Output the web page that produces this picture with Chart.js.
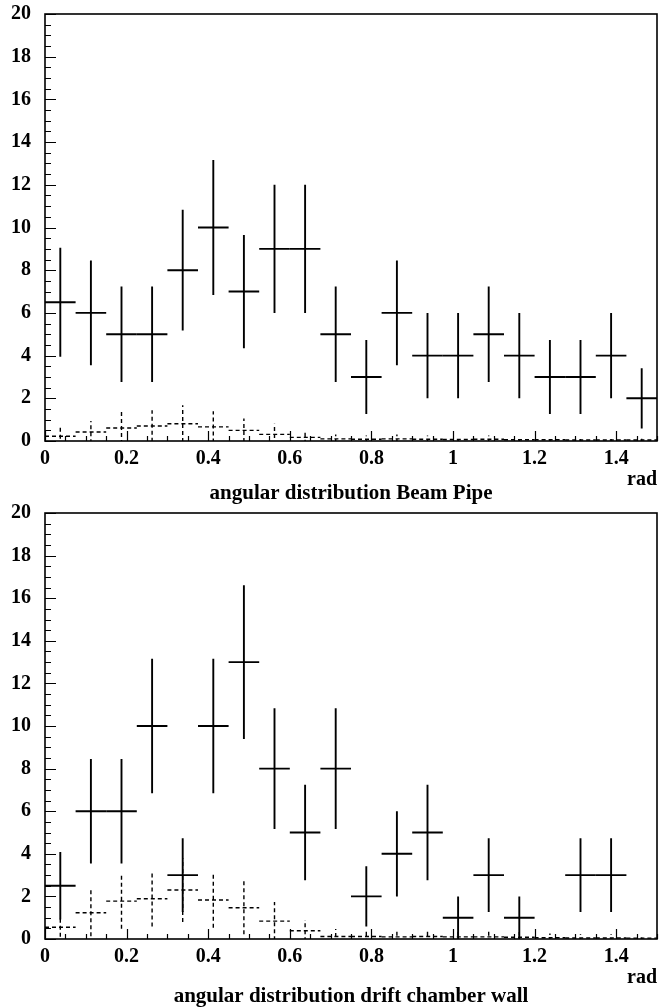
<!DOCTYPE html>
<html>
<head>
<meta charset="utf-8">
<script src="https://cdn.jsdelivr.net/npm/chart.js@4.4.0/dist/chart.umd.min.js"></script>
<style>
  body { margin: 0; background: #fff; }
  canvas { display: block; position: absolute; left: 0; }
  #pipe { top: 0; }
  #wall { top: 500px; }
</style>
</head>
<body>
<canvas id="pipe" width="660" height="510"></canvas>
<canvas id="wall" width="660" height="508"></canvas>
<script>
// bin centres (rad), 20 bins of 0.075
const binCenters = [0.0375, 0.1125, 0.1875, 0.2625, 0.3375, 0.4125, 0.4875, 0.5625, 0.6375, 0.7125,
                    0.7875, 0.8625, 0.9375, 1.0125, 1.0875, 1.1625, 1.2375, 1.3125, 1.3875, 1.4625]
const binHalf = 0.0375

// beam pipe: data (solid) and simulation (dashed)
const pipeCounts = [6.5, 6, 5, 5, 8, 10, 7, 9, 9, 5, 3, 6, 4, 4, 5, 4, 3, 3, 4, 2]
const pipeErrors = [2.55, 2.45, 2.24, 2.24, 2.83, 3.16, 2.65, 3, 3, 2.24, 1.73, 2.45, 2, 2, 2.24, 2, 1.73, 1.73, 2, 1.41]
const pipeSim    = [0.22, 0.42, 0.61, 0.7, 0.81, 0.66, 0.5, 0.31, 0.17, 0.1, 0.08, 0.1, 0.08, 0.07, 0.08, 0.06, 0.06, 0.05, 0.05, 0.05]
const pipeSimErr = [0.44, 0.52, 0.75, 0.74, 0.86, 0.73, 0.55, 0.5, 0.3, 0.2, 0.18, 0.2, 0.18, 0.16, 0.18, 0.15, 0.15, 0.14, 0.14, 0.13]

// drift chamber wall
const wallCounts = [2.5, 6, 6, 10, 3, 10, 13, 8, 5, 8, 2, 4, 5, 1, 3, 1, 0, 3, 3, 0]
const wallErrors = [1.58, 2.45, 2.45, 3.16, 1.73, 3.16, 3.61, 2.83, 2.24, 2.83, 1.41, 2, 2.24, 1, 1.73, 1, 0, 1.73, 1.73, 0]
const wallSim    = [0.55, 1.23, 1.78, 1.89, 2.3, 1.83, 1.47, 0.84, 0.39, 0.12, 0.12, 0.1, 0.12, 0.1, 0.1, 0.08, 0.06, 0.05, 0.05, 0.04]
const wallSimErr = [0.45, 1.1, 1.3, 1.3, 1.5, 1.3, 1.25, 0.9, 0.5, 0.35, 0.3, 0.28, 0.3, 0.28, 0.28, 0.25, 0.2, 0.18, 0.18, 0.15]

const xMin = 0, xMax = 1.5
const yMin = 0, yMax = 20
const xStep = 0.2, yStep = 2

const FONT = 'Liberation Serif'

// draws the error crosses, the frame and the inward tick marks
const histPlugin = {
  id: 'hist',
  afterDatasetsDraw(chart, args, opts) {
    const ctx = chart.ctx
    const xs = chart.scales.x, ys = chart.scales.y
    const a = chart.chartArea
    ctx.save()
    ctx.beginPath()
    ctx.rect(a.left, a.top, a.right - a.left, a.bottom - a.top)
    ctx.clip()
    ctx.strokeStyle = '#000'
    chart.data.datasets.forEach(ds => {
      ctx.lineWidth = ds.dashed ? 1.4 : 1.9
      ctx.setLineDash(ds.dashed ? [4, 3] : [])
      ds.data.forEach((p, i) => {
        if (!p.y) return
        const e = ds.errors[i]
        const py = ys.getPixelForValue(p.y)
        const px = xs.getPixelForValue(p.x)
        ctx.beginPath()
        ctx.moveTo(xs.getPixelForValue(p.x - binHalf), py)
        ctx.lineTo(xs.getPixelForValue(p.x + binHalf), py)
        ctx.moveTo(px, ys.getPixelForValue(p.y - e))
        ctx.lineTo(px, ys.getPixelForValue(p.y + e))
        ctx.stroke()
      })
    })
    ctx.restore()

    ctx.save()
    ctx.strokeStyle = '#000'
    ctx.lineWidth = 1.2
    ctx.beginPath()
    // y ticks: every 0.5, long on the labelled ones
    for (let v = yMin; v <= yMax + 1e-9; v += 0.5) {
      const y = Math.round(ys.getPixelForValue(v)) + 0.5
      const len = Math.abs(v % yStep) < 1e-6 ? 11 : 6
      ctx.moveTo(a.left, y); ctx.lineTo(a.left + len, y)
    }
    // x ticks: every 0.05
    for (let k = 0; k * 0.05 <= xMax + 1e-9; k++) {
      const v = k * 0.05
      const x = Math.round(xs.getPixelForValue(v)) + 0.5
      const len = k % 4 === 0 ? 10 : 5
      ctx.moveTo(x, a.bottom); ctx.lineTo(x, a.bottom - len)
    }
    ctx.stroke()
    ctx.lineWidth = 1.6
    ctx.strokeRect(a.left, a.top, a.right - a.left, a.bottom - a.top)

    ctx.fillStyle = '#000'
    ctx.font = 'bold 20px ' + FONT
    ctx.textAlign = 'right'
    ctx.textBaseline = 'alphabetic'
    ctx.fillText('rad', a.right, a.bottom + opts.radOffset)
    ctx.font = 'bold 21px ' + FONT
    ctx.textAlign = 'center'
    ctx.fillText(opts.title, (a.left + a.right) / 2, a.bottom + opts.titleOffset)
    ctx.restore()
  }
}

function makeChart(id, counts, errors, sim, simErr, title, padTop, axisH, titleOffset) {
  const toPoints = vals => binCenters.map((x, i) => ({ x: x, y: vals[i] }))
  return new Chart(document.getElementById(id), {
    type: 'scatter',
    data: {
      datasets: [
        { label: 'data', data: toPoints(counts), errors: errors, dashed: false, pointRadius: 0 },
        { label: 'sim', data: toPoints(sim), errors: simErr, dashed: true, pointRadius: 0 }
      ]
    },
    options: {
      responsive: false,
      animation: false,
      events: [],
      layout: { padding: { top: padTop, right: 3, left: 0, bottom: 0 } },
      plugins: {
        legend: { display: false },
        tooltip: { enabled: false },
        hist: { title: title, radOffset: 44, titleOffset: titleOffset }
      },
      scales: {
        x: {
          type: 'linear', min: xMin, max: xMax,
          grid: { display: false, drawTicks: false },
          border: { display: false },
          afterFit: s => { s.height = axisH; s.paddingLeft = 0; s.paddingRight = 0 },
          ticks: {
            stepSize: xStep, includeBounds: false, padding: 6, color: '#000',
            maxRotation: 0, autoSkip: false,
            font: { family: FONT, weight: 'bold', size: 20 },
            callback: v => String(+v.toFixed(1))
          }
        },
        y: {
          type: 'linear', min: yMin, max: yMax,
          grid: { display: false, drawTicks: false },
          border: { display: false },
          afterFit: s => { s.width = 45; s.paddingTop = 0; s.paddingBottom = 0 },
          ticks: {
            stepSize: yStep, padding: 14, color: '#000', autoSkip: false,
            font: { family: FONT, weight: 'bold', size: 20 },
            callback: v => String(v)
          }
        }
      }
    },
    plugins: [histPlugin]
  })
}

// top canvas is 510 tall so the title descenders can spill under the lower canvas
makeChart('pipe', pipeCounts, pipeErrors, pipeSim, pipeSimErr,
  'angular distribution Beam Pipe', 14, 69, 58)
makeChart('wall', wallCounts, wallErrors, wallSim, wallSimErr,
  'angular distribution drift chamber wall', 13, 69, 63)
</script>
</body>
</html>
